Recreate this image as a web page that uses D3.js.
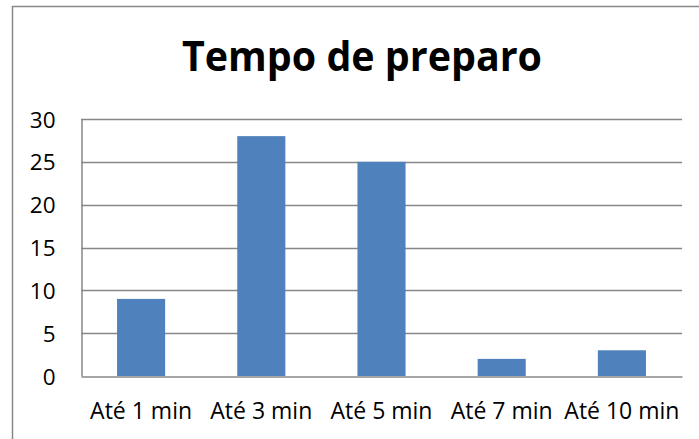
<!DOCTYPE html>
<html><head><meta charset="utf-8">
<script src="https://cdn.jsdelivr.net/npm/d3@7"></script>
<style>html,body{margin:0;padding:0;background:#fff;overflow:hidden}</style>
</head><body>
<svg id="c" width="699" height="439"></svg>
<script>
const categories = ["Até 1 min", "Até 3 min", "Até 5 min", "Até 7 min", "Até 10 min"];
const values = [9, 28, 25, 2, 3];
const yTicks = [0, 5, 10, 15, 20, 25, 30];
const title = "Tempo de preparo";

const svg = d3.select("#c");
const font = "'Open Sans', 'Noto Sans', sans-serif";
const grey = "#878787";

svg.append("rect").attr("x", 12.5).attr("y", 6.5).attr("width", 720).attr("height", 460)
  .attr("fill", "none").attr("stroke", grey).attr("stroke-width", 1.5);

const m = {left: 81, right: 682, top: 119, bottom: 376};
const x = d3.scaleBand().domain(categories).range([m.left, m.right]).paddingInner(0.6).paddingOuter(0.3);
const y = d3.scaleLinear().domain([0, 30]).range([m.bottom, m.top]);

svg.append("text").attr("x", 362).attr("y", 71).attr("text-anchor", "middle")
  .attr("font-family", font).attr("font-weight", "bold").attr("font-size", 42)
  .attr("textLength", 360).attr("lengthAdjust", "spacingAndGlyphs")
  .attr("fill", "#000").text(title);

// gridlines
svg.append("g").selectAll("line").data(yTicks.filter(d => d > 0)).join("line")
  .attr("x1", m.left).attr("x2", m.right)
  .attr("y1", d => Math.round(y(d)) + 0.5).attr("y2", d => Math.round(y(d)) + 0.5)
  .attr("stroke", grey).attr("stroke-width", 1.5);

// bars
svg.append("g").selectAll("rect").data(values).join("rect")
  .attr("x", (d, i) => x(categories[i]))
  .attr("width", x.bandwidth())
  .attr("y", d => y(d))
  .attr("height", d => y(0) - y(d))
  .attr("fill", "#4f81bd");

// y axis
const yAxis = svg.append("g").attr("transform", `translate(${m.left + 0.5},0)`)
  .call(d3.axisLeft(y).tickValues(yTicks).tickSize(0).tickPadding(26));
yAxis.select(".domain").attr("stroke", grey).attr("stroke-width", 1.5);
yAxis.selectAll("text").attr("font-family", font).attr("font-size", 22.5).attr("fill", "#000")
  .attr("dy", "0.36em");

// x axis
const xAxis = svg.append("g").attr("transform", `translate(0,${Math.round(y(0)) + 0.5})`)
  .call(d3.axisBottom(x).tickSize(0).tickPadding(0));
xAxis.select(".domain").attr("stroke", grey).attr("stroke-width", 1.5);
xAxis.selectAll("text").attr("font-family", font).attr("font-size", 23).attr("fill", "#000")
  .attr("dy", 0).attr("y", 42);
</script>
</body></html>
